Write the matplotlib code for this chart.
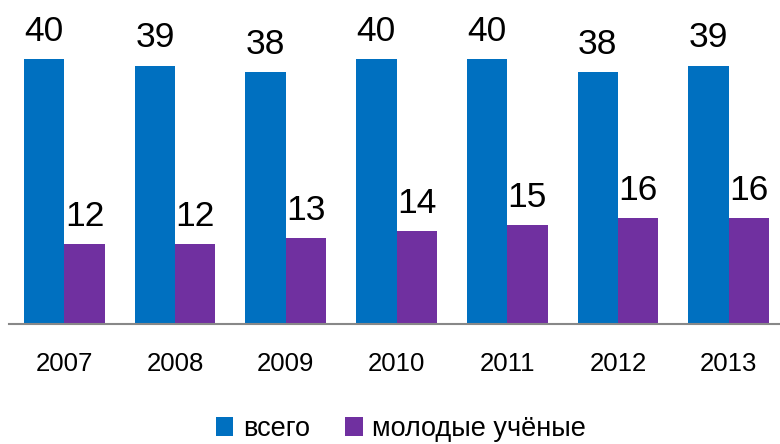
import matplotlib
matplotlib.use('Agg')
import matplotlib.pyplot as plt
import numpy as np

plt.rcParams['font.family'] = ['Liberation Sans', 'DejaVu Sans']

years = ['2007', '2008', '2009', '2010', '2011', '2012', '2013']
total = [40, 39, 38, 40, 40, 38, 39]
young = [12, 12, 13, 14, 15, 16, 16]
names = ['всего', 'молодые учёные']
colors = ['#0070C0', '#7030A0']

fig = plt.figure(figsize=(7.8, 4.44), dpi=100)
ax = fig.add_axes([9 / 780, 1 - 324 / 444, 775 / 780, 324 / 444])

x = np.arange(len(years))
w = 0.365
b1 = ax.bar(x - w / 2, total, w, color=colors[0], label=names[0])
b2 = ax.bar(x + w / 2, young, w, color=colors[1], label=names[1])

for bars in (b1, b2):
    for r in bars:
        ax.annotate(str(int(r.get_height())), (r.get_x() + r.get_width() / 2, r.get_height()),
                    xytext=(0, 8), textcoords='offset points', ha='center', va='bottom',
                    fontsize=25.5, color='black')

ax.set_xlim(-0.5, len(years) - 0.5)
ax.set_ylim(0, 48.9)
ax.set_xticks(x)
ax.set_xticklabels(years, fontsize=18.5)
ax.tick_params(axis='x', length=0, pad=20)
ax.set_yticks([])
for s in ('top', 'right', 'left'):
    ax.spines[s].set_visible(False)
ax.spines['bottom'].set_color('#888888')
ax.spines['bottom'].set_linewidth(1.5)

fig.legend(handles=[b1, b2], loc='center', bbox_to_anchor=(401 / 780, 1 - 429 / 444),
           ncol=2, frameon=False, fontsize=19.5, handlelength=0.65, handleheight=0.65,
           handletextpad=0.35, columnspacing=1.3)

fig.savefig('out.png', dpi=100)
